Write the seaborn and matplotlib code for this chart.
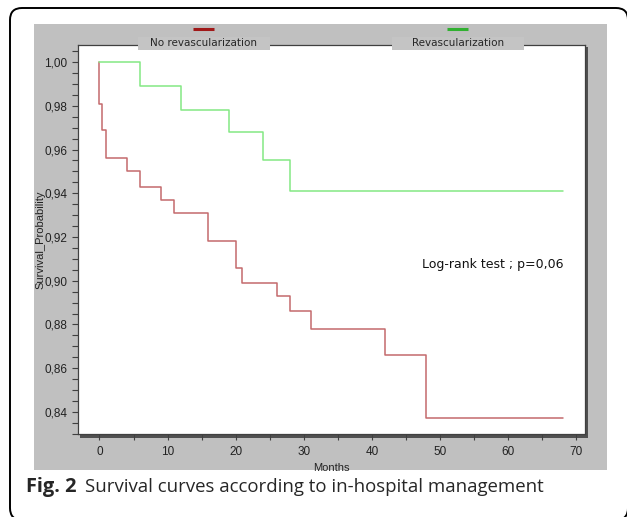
import pandas as pd
import matplotlib
matplotlib.use("Agg")
import matplotlib.pyplot as plt
import seaborn as sns
from matplotlib.patches import Rectangle, FancyBboxPatch
from matplotlib.ticker import MultipleLocator, FuncFormatter

# Kaplan-Meier steps (months, survival probability)
no_revasc_months = [0, 0, 0.4, 1, 4, 6, 9, 11, 16, 20, 21, 26, 28, 31, 42, 48, 68]
no_revasc_surv = [1.0, 0.981, 0.969, 0.956, 0.950, 0.943, 0.937, 0.931, 0.918,
                  0.906, 0.899, 0.893, 0.886, 0.878, 0.866, 0.837, 0.837]
revasc_months = [0, 6, 12, 19, 24, 28, 68]
revasc_surv = [1.0, 0.989, 0.978, 0.968, 0.955, 0.941, 0.941]

groups = ["No revascularization", "Revascularization"]
line_colors = {"No revascularization": "#c46a6c", "Revascularization": "#84e884"}
marker_colors = {"No revascularization": "#a01818", "Revascularization": "#30b030"}

yticks = [0.84, 0.86, 0.88, 0.90, 0.92, 0.94, 0.96, 0.98, 1.00]
xticks = [0, 10, 20, 30, 40, 50, 60, 70]

df = pd.concat([
    pd.DataFrame({"Months": no_revasc_months, "Survival": no_revasc_surv, "group": groups[0]}),
    pd.DataFrame({"Months": revasc_months, "Survival": revasc_surv, "group": groups[1]}),
], ignore_index=True)

W, H = 627, 517
sns.set_theme(style="white")
plt.rcParams["font.family"] = ["Liberation Sans", "DejaVu Sans"]

fig = plt.figure(figsize=(W / 100, H / 100), dpi=100)

# background decorations in pixel coordinates
bg = fig.add_axes([0, 0, 1, 1], zorder=0)
bg.set_xlim(0, W)
bg.set_ylim(H, 0)
bg.axis("off")
bg.add_patch(FancyBboxPatch((10, 8), 618, 512, boxstyle="round,pad=0,rounding_size=12",
                            facecolor="white", edgecolor="black", lw=1.4))
bg.add_patch(Rectangle((34, 24), 573, 446, facecolor="#c0c0c0", edgecolor="none"))
bg.add_patch(Rectangle((80, 47), 508, 391, facecolor="#505050", edgecolor="none"))
bg.text(26, 487, "Fig. 2", fontsize=14.4, fontweight="bold", family="Open Sans", va="center")
bg.text(85, 487, "Survival curves according to in-hospital management", fontsize=13.4,
        family="Open Sans", va="center")

# main plot
ax = fig.add_axes([78 / W, 1 - 434 / H, 507 / W, 389 / H], zorder=1)
ax.set_facecolor("white")
sns.lineplot(data=df, x="Months", y="Survival", hue="group", palette=line_colors,
             estimator=None, sort=False, drawstyle="steps-post", lw=1.1,
             legend=False, ax=ax)
ax.set_xlim(-3.15, 71.3)
ax.set_ylim(0.8299, 1.0078)
ax.set_xticks(xticks)
ax.set_yticks(yticks)
ax.xaxis.set_minor_locator(MultipleLocator(5))
ax.yaxis.set_minor_locator(MultipleLocator(0.005))
ax.yaxis.set_major_formatter(FuncFormatter(lambda v, p: f"{v:.2f}".replace(".", ",")))
ax.tick_params(axis="both", which="both", direction="out", color="#404040",
               labelsize=8.5, labelcolor="#222222", length=4.5, width=0.8, pad=3)
ax.tick_params(axis="x", which="major", pad=4)
ax.tick_params(axis="both", which="both", left=True, bottom=True)
for s in ax.spines.values():
    s.set_color("#404040")
    s.set_linewidth(0.9)
ax.set_ylabel("Survival_Probability", fontsize=8, color="#222222")
ax.set_xlabel("Months", fontsize=8, color="#222222")
ax.yaxis.set_label_coords((45 - 78) / 507, (434 - 240) / 389)
ax.xaxis.set_label_coords((331 - 78) / 507, -(463 - 434) / 389)
ax.text((422 - 78) / 507, (434 - 265) / 389, "Log-rank test ; p=0,06", transform=ax.transAxes,
        fontsize=9, family="DejaVu Sans", va="center", ha="left", color="#111111")

# legend boxes on top of the frame
fg = fig.add_axes([0, 0, 1, 1], zorder=2)
fg.set_xlim(0, W)
fg.set_ylim(H, 0)
fg.axis("off")
fg.patch.set_alpha(0)
for g, x0 in zip(groups, [138, 392]):
    fg.add_patch(Rectangle((x0, 37), 132, 13, facecolor="#c4c4c4", edgecolor="none"))
    fg.text(x0 + 66, 43.5, g, fontsize=7.5, family="DejaVu Sans", ha="center", va="center")
    fg.plot([x0 + 55, x0 + 76], [29, 29], color=marker_colors[g], lw=2.2, solid_capstyle="butt")

fig.savefig("out.png", dpi=100)
